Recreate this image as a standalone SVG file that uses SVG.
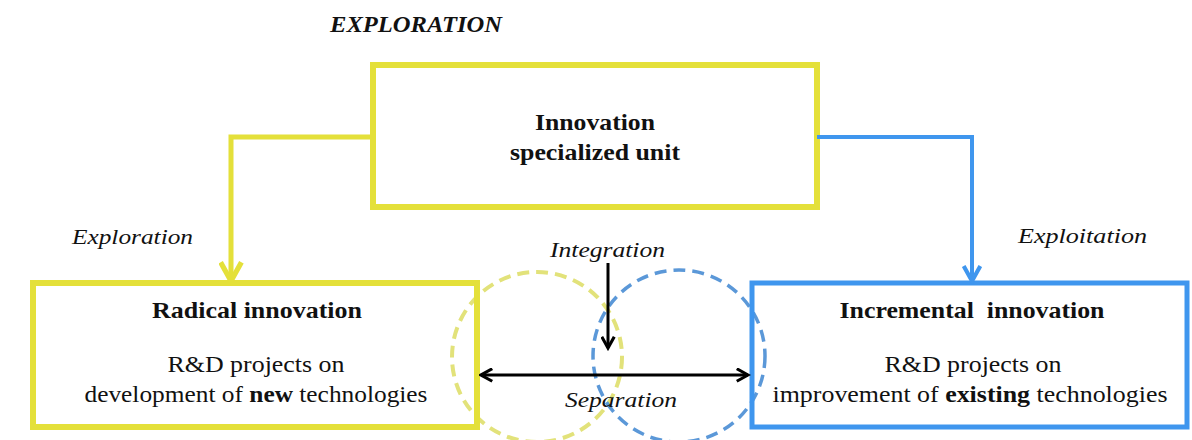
<svg xmlns="http://www.w3.org/2000/svg" width="1192" height="440" viewBox="0 0 1192 440">
<style>
.t{font-family:"Liberation Serif","Times New Roman",serif;fill:#111;}
.b{font-weight:bold;}
.i{font-style:italic;}
.ybox{fill:#fff;stroke:#e4e03a;stroke-width:6;}
.bbox{fill:#fff;stroke:#3f96ee;stroke-width:5;}
.yc{fill:none;stroke:#e2e27a;stroke-width:4;stroke-dasharray:12 7;}
.bc{fill:none;stroke:#5b98d8;stroke-width:3.5;stroke-dasharray:12 7;}
.yl{fill:none;stroke:#e4e03a;stroke-width:5;}
.bl{fill:none;stroke:#3f96ee;stroke-width:4;}
.kl{fill:none;stroke:#000;stroke-width:3;}
</style>
<defs>
<marker id="ay" viewBox="0 0 12 12" refX="10" refY="6" markerWidth="5" markerHeight="5" orient="auto" markerUnits="strokeWidth">
<path d="M1,1 L10,6 L1,11" fill="none" stroke="#e4e03a" stroke-width="2.5"/>
</marker>
<marker id="ab" viewBox="0 0 12 12" refX="10" refY="6" markerWidth="5" markerHeight="5" orient="auto" markerUnits="strokeWidth">
<path d="M1,1 L10,6 L1,11" fill="none" stroke="#3f96ee" stroke-width="2.5"/>
</marker>
<marker id="ak" viewBox="0 0 12 12" refX="10" refY="6" markerWidth="5" markerHeight="5" orient="auto-start-reverse" markerUnits="strokeWidth">
<path d="M1,1 L10,6 L1,11" fill="none" stroke="#000" stroke-width="2.5"/>
</marker>
</defs>

<text class="t b i" x="330" y="32" font-size="23" textLength="172" lengthAdjust="spacingAndGlyphs">EXPLORATION</text>

<g id="circles">
<circle class="yc" cx="537" cy="357" r="85"/>
<circle class="bc" cx="679" cy="356" r="86"/>
</g>

<g id="unit">
<rect class="ybox" x="373" y="65" width="444" height="142"/>
<text class="t b" x="595" y="130" font-size="23" text-anchor="middle" textLength="120" lengthAdjust="spacingAndGlyphs">Innovation</text>
<text class="t b" x="595" y="160" font-size="23" text-anchor="middle" textLength="170" lengthAdjust="spacingAndGlyphs">specialized unit</text>
</g>

<g id="radical">
<rect class="ybox" x="33" y="283" width="444" height="144" fill-opacity="0"/>
<text class="t b" x="257" y="318" font-size="23" text-anchor="middle" textLength="210" lengthAdjust="spacingAndGlyphs">Radical innovation</text>
<text class="t" x="256" y="372" font-size="23" text-anchor="middle" textLength="177" lengthAdjust="spacingAndGlyphs">R&amp;D projects on</text>
<text class="t" x="256" y="402" font-size="23" text-anchor="middle" textLength="343" lengthAdjust="spacingAndGlyphs">development of <tspan class="b">new</tspan> technologies</text>
</g>

<g id="incremental">
<rect class="bbox" x="752" y="283" width="435" height="144" fill-opacity="0"/>
<text class="t b" x="972" y="318" font-size="23" text-anchor="middle" textLength="265" lengthAdjust="spacingAndGlyphs" xml:space="preserve">Incremental  innovation</text>
<text class="t" x="973" y="372" font-size="23" text-anchor="middle" textLength="177" lengthAdjust="spacingAndGlyphs">R&amp;D projects on</text>
<text class="t" x="970" y="402" font-size="23" text-anchor="middle" textLength="395" lengthAdjust="spacingAndGlyphs">improvement of <tspan class="b">existing</tspan> technologies</text>
</g>

<g id="connectors">
<polyline class="yl" points="373,137 231,137 231,281" marker-end="url(#ay)"/>
<polyline class="bl" points="817,137 972,137 972,281" marker-end="url(#ab)"/>
<line class="kl" x1="481" y1="375" x2="748" y2="375" marker-start="url(#ak)" marker-end="url(#ak)"/>
<line class="kl" x1="608" y1="263" x2="608" y2="348" marker-end="url(#ak)"/>
</g>

<g id="labels">
<text class="t i" x="72" y="244" font-size="22" textLength="121" lengthAdjust="spacingAndGlyphs">Exploration</text>
<text class="t i" x="1018" y="243" font-size="22" textLength="129" lengthAdjust="spacingAndGlyphs">Exploitation</text>
<text class="t i" x="550" y="257" font-size="22" textLength="115" lengthAdjust="spacingAndGlyphs">Integration</text>
<text class="t i" x="565" y="407" font-size="22" textLength="112" lengthAdjust="spacingAndGlyphs">Separation</text>
</g>
</svg>
